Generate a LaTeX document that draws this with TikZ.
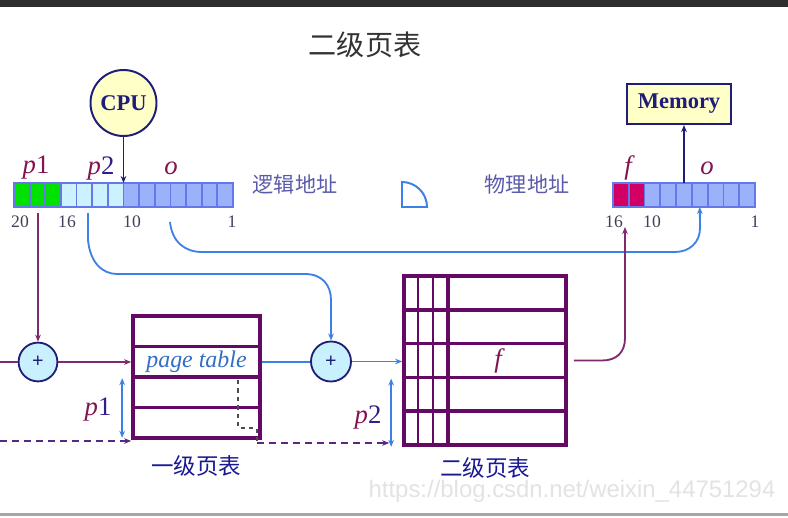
\documentclass[tikz,border=0pt]{standalone}
\usepackage{fontspec}
\setmainfont{Liberation Serif}
\newfontfamily\cjk{Noto Sans CJK SC}
\newfontfamily\wmfont{Liberation Sans}
\definecolor{lineRed}{RGB}{130, 40, 110}
\definecolor{varRed}{RGB}{130, 20, 80}
\definecolor{tablePurple}{RGB}{100, 10, 100}
\definecolor{lineBlue}{RGB}{60, 130, 230}
\definecolor{navy}{RGB}{30, 30, 120}
\definecolor{digitNavy}{RGB}{50, 30, 140}
\definecolor{cellBlue}{RGB}{155, 178, 250}
\definecolor{cellEdge}{RGB}{100, 120, 235}
\definecolor{cellGreen}{RGB}{0, 225, 0}
\definecolor{cellCyan}{RGB}{205, 242, 255}
\definecolor{cellPink}{RGB}{210, 0, 100}
\definecolor{boxYellow}{RGB}{255, 255, 200}
\definecolor{plusFill}{RGB}{200, 240, 255}
\definecolor{cnText}{RGB}{90, 90, 170}
\definecolor{numGray}{RGB}{70, 60, 90}
\definecolor{dashPurple}{RGB}{90, 40, 130}
\usetikzlibrary{arrows.meta, positioning, calc}

\begin{document}
\begin{tikzpicture}[x=0.025cm, y=-0.025cm,
    cell/.style={minimum width=0.392cm, minimum height=0.6cm, inner sep=0pt, outer sep=0pt},
    rowA/.style={draw=tablePurple, line width=2.6pt, minimum width=3.175cm, minimum height=0.7625cm, inner sep=0pt},
    rowB/.style={draw=tablePurple, line width=2.6pt, minimum width=4.05cm, minimum height=0.845cm, inner sep=0pt},
    plus/.style={circle, draw=navy, fill=plusFill, line width=1.3pt, minimum size=0.97cm, inner sep=0pt, font=\bfseries\Large, text=navy},
    unitbox/.style={draw=navy, fill=boxYellow, line width=1.4pt, font=\fontsize{16}{18}\selectfont\bfseries, text=navy, inner sep=0pt},
    redline/.style={draw=lineRed, line width=1.3pt},
    blueline/.style={draw=lineBlue, line width=1.3pt},
    dashline/.style={draw=dashPurple, line width=1.2pt, dash pattern=on 5pt off 3.5pt},
    arr/.style={-{Stealth[length=5pt, width=4pt]}},
    span/.style={blueline, {Stealth[length=5pt, width=4pt]}-{Stealth[length=5pt, width=4pt]}},
    num/.style={font=\fontsize{12.5}{13}\selectfont, text=numGray},
    var/.style={font=\fontsize{19}{20}\selectfont\itshape, text=varRed},
    cn/.style={font=\cjk\fontsize{15}{16}\selectfont, text=cnText},
    tabname/.style={font=\cjk\fontsize{16}{18}\selectfont, text=navy!80!blue},
  ]
    % page frame
    \useasboundingbox (0,0) rectangle (788,518);
    \fill[white] (0,0) rectangle (788,518);
    \fill[black!82] (0,0) rectangle (788,7);
    \fill[gray!70] (0,513) rectangle (788,515.5);

    % title
    \node[font=\cjk\fontsize{20}{22}\selectfont, text=black!80] (title) at (365,45) {二级页表};

    % logical address register
    \foreach \i in {0,1,2} \node[cell, fill=cellGreen] (la\i) at ({14+15.64*(\i+0.5)},195) {};
    \foreach \i in {3,...,6} \node[cell, fill=cellCyan] (la\i) at ({14+15.64*(\i+0.5)},195) {};
    \foreach \i in {7,...,13} \node[cell, fill=cellBlue] (la\i) at ({14+15.64*(\i+0.5)},195) {};
    \foreach \i in {0,...,13} \draw[cellEdge, line width=1.2pt] (la\i.north west) rectangle (la\i.south east);
    \draw[cellEdge, line width=1.5pt] (la0.north west) rectangle (la13.south east);
    \node[var] (lp1) at (36,168) {p\textcolor{varRed}{\upshape 1}};
    \node[var] (lp2) at (101,168) {p\textcolor{digitNavy}{\upshape 2}};
    \node[var] (lo) at (171,168) {o};
    \node[num] (n20) at (20,222) {20};
    \node[num] (n16) at (67,222) {16};
    \node[num] (n10) at (132,222) {10};
    \node[num] (n1) at (232,222) {1};
    \node[cn] (logic) at (295,184) {逻辑地址};

    % CPU
    \node[unitbox, circle, minimum size=1.65cm] (cpu) at (123.5,103) {CPU};
    \draw[navy, line width=1.2pt, arr] (cpu.south) -- (cpu.south |- la7.north);

    % quarter mark
    \draw[lineBlue, line width=1.4pt, fill=white] (402,182) -- (402,207) -- (427,207) arc[start angle=0, end angle=-90, radius=25] -- cycle;

    % physical address register
    \node[cn] (phys) at (527,184) {物理地址};
    \foreach \i in {0,1} \node[cell, fill=cellPink] (ra\i) at ({613+15.78*(\i+0.5)},195) {};
    \foreach \i in {2,...,8} \node[cell, fill=cellBlue] (ra\i) at ({613+15.78*(\i+0.5)},195) {};
    \foreach \i in {0,...,8} \draw[cellEdge, line width=1.2pt] (ra\i.north west) rectangle (ra\i.south east);
    \draw[cellEdge, line width=1.5pt] (ra0.north west) rectangle (ra8.south east);
    \node[var] (rf) at (628,168) {f};
    \node[var] (ro) at (707,168) {o};
    \node[num] (m16) at (614,222) {16};
    \node[num] (m10) at (652,222) {10};
    \node[num] (m1) at (755,222) {1};

    % Memory
    \node[unitbox, minimum width=2.6cm, minimum height=1cm] (mem) at (679,104) {Memory};
    \draw[navy, line width=1.2pt, arr] (ra4.north) -- (ra4.north |- mem.south);

    % first level table
    \foreach \r in {1,...,4} \node[rowA] (ta\r) at (196.5,{316+30.5*(\r-0.5)}) {};
    \node[font=\fontsize{17}{18}\selectfont\itshape, text=lineBlue!85!black] (ptab) at (ta2) {page table};
    \node[tabname] (tanm) at (196,466) {一级页表};
    \draw[black!70, line width=0.8pt, dashed] (238,380) -- (238,428) -- (257,428) -- (257,441);

    % second level table
    \foreach \r in {1,...,5} \node[rowB] (tb\r) at (485,{276+33.8*(\r-0.5)}) {};
    \draw[tablePurple, line width=0.8pt] (418,276) -- (418,445) (433,276) -- (433,445);
    \draw[tablePurple, line width=2.4pt] (448,276) -- (448,445);
    \node[var] (tf) at (498,361) {f};
    \node[tabname] (tbnm) at (485,468) {二级页表};

    % adders
    \node[plus] (plusA) at (38,362) {+};
    \node[plus, minimum size=1cm] (plusB) at (331,361.5) {+};

    % p1 path
    \coordinate (pa) at (38,213);
    \coordinate (inA) at (0,362);
    \draw[redline, arr] (pa) -- (plusA.north);
    \draw[redline] (inA) -- (plusA.west);
    \draw[redline, arr] (plusA.east) -- (plusA.east -| ta2.west);
    \coordinate (inB) at (0,441);
    \draw[dashline, arr] (inB) -- (inB -| ta4.south west);
    \draw[span] ($(ta3.north west)+(-9,3)$) -- ($(ta4.south west)+(-9,-2)$);
    \node[var] (bp1) at (98,410) {p\textcolor{digitNavy}{\upshape 1}};

    % p2 path
    \coordinate (pb) at (88,213);
    \draw[blueline, arr] (pb) -- (88,240) .. controls (90,262) and (102,274) .. (117,274)
        -- (305,274) .. controls (322,274) and (331,285) .. (331,300) -- (plusB.north);
    \draw[blueline] (ta2.east) -- (ta2.east -| plusB.west);
    \draw[blueline, arr] (plusB.east) -- (plusB.east -| tb3.west);
    \coordinate (outA) at (257,443);
    \coordinate (spanB) at ($(tb5.south west)+(-11,0)$);
    \draw[dashline, arr] (outA) -- ($(outA -| spanB)+(-2,0)$);
    \draw[span] ($(tb4.north west)+(-11,3)$) -- (spanB);
    \node[var] (bp2) at (368,417) {p\textcolor{digitNavy}{\upshape 2}};

    % offset path
    \coordinate (oa) at (170,222);
    \draw[blueline, arr] (oa) .. controls (172,242) and (185,252) .. (202,252)
        -- (675,252) .. controls (690,252) and (700,242) .. (700,228) -- (ra5.south);

    % frame path
    \coordinate (fend) at (625,227);
    \draw[redline, arr] ($(tb3.east)+(6,0)$) -- (602,360.5) .. controls (617,360.5) and (625,352) .. (625,338) -- (fend);

    % watermark
    \node[font=\wmfont\fontsize{17}{18}\selectfont, text=black!11] (wm) at (572,491) {https://blog.csdn.net/weixin\_44751294};
\end{tikzpicture}
\end{document}
